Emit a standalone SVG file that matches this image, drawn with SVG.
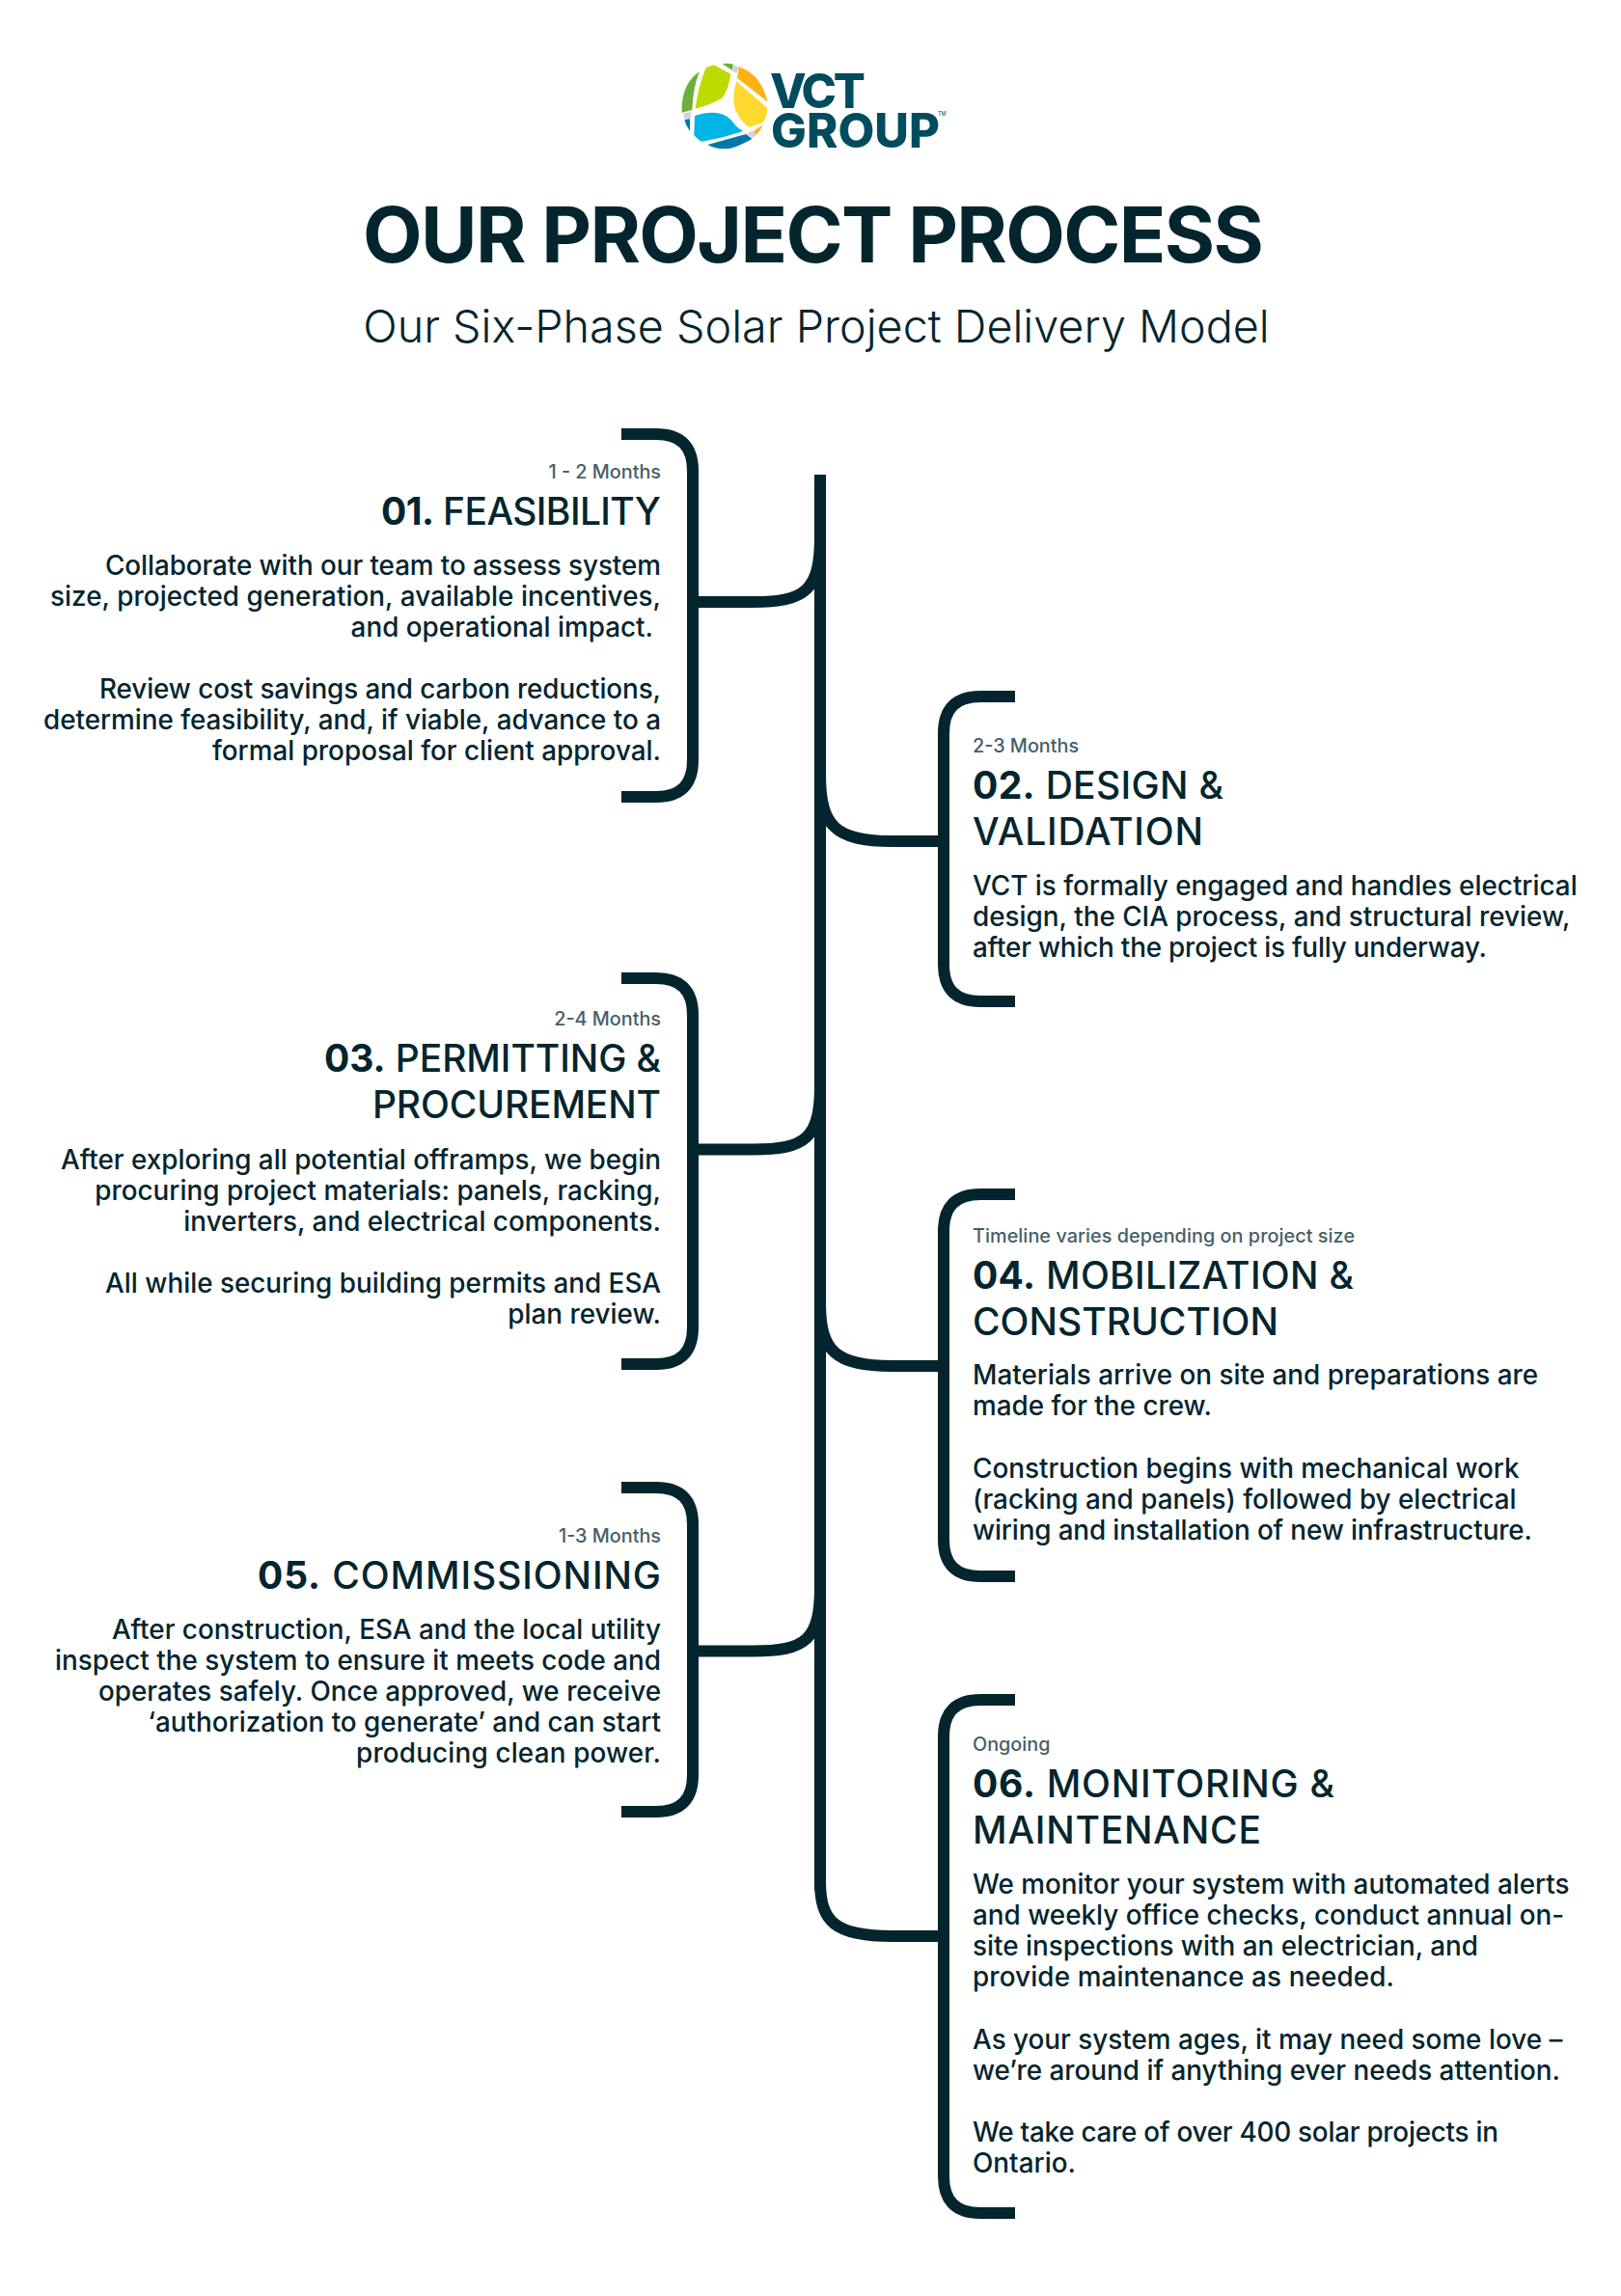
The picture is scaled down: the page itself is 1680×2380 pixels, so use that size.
<svg xmlns="http://www.w3.org/2000/svg" width="1680" height="2380" viewBox="0 0 1680 2380">
<style>
text{font-family:Inter,"Liberation Sans",sans-serif;fill:#04252e}
.h1{font-size:80px;font-weight:650}
.h2{font-size:46.7px;font-weight:300;text-anchor:middle}
.d{font-size:19.8px;font-weight:500;fill:#465f67}
.t{font-size:39px;font-weight:500}
.t tspan{font-weight:700}
.b{font-size:27.85px;font-weight:500}
.r{text-anchor:end}
.ln{fill:none;stroke:#04252e;stroke-width:12}
.lg{font-size:49px;font-weight:800;fill:#004c5f}
</style>
<rect width="1680" height="2380" fill="#fff"/>
<g id="logo">
<g transform="translate(680 40) scale(.3333)">
<path fill="#6fae3c" d="M135 103Q85 135 80 210L80 230L112 222Q115 150 135 103Z"/>
<path fill="#d0d5d5" d="M85 232L108 228L108 248L88 250Z"/>
<path fill="#0078ab" d="M88 252L105 250L105 288Q92 270 88 252Z"/>
<path fill="#bedb00" d="M155 90L180 82L232 110Q225 160 205 185Q170 205 122 218Q130 150 155 90Z"/>
<path fill="#6fae3c" d="M205 78Q225 76 240 80L236 98Z"/>
<path fill="#d0d5d5" d="M240 82L258 88L250 108L236 100Z"/>
<path fill="#ffb114" d="M258 88Q325 110 347 197L252 122Z"/>
<path fill="#ffd92e" d="M250 133L345 215Q345 250 330 262L288 276Q255 250 245 215Q235 180 250 133Z"/>
<path fill="#00b5e6" d="M120 240Q200 215 235 255Q250 278 270 287Q210 310 140 320Q125 310 118 300Z"/>
<path fill="#ffb114" d="M300 290L332 268Q322 290 312 298Z"/>
<path fill="#d0d5d5" d="M282 295L300 288L312 300L298 310Z"/>
<path fill="#0078ab" d="M160 330L280 297L298 312Q240 345 210 343Q185 343 160 330Z"/>
</g>
<text class="lg" x="798" y="112" textLength="99">VCT</text>
<text class="lg" x="799" y="153" textLength="175">GROUP</text>
<text x="972" y="120" style="font-size:5.5px;fill:#004c5f">TM</text>
</g>
<g id="header">
<text class="h1" x="376" y="272" textLength="934">OUR PROJECT PROCESS</text>
<text class="h2" x="846" y="355">Our Six-Phase Solar Project Delivery Model</text>
</g>
<g id="connectors">
<path class="ln" d="M850 492V1960"/>
<path class="ln" d="M718 624H780C835 624 850 612 850 556"/>
<path class="ln" d="M850 802C850 856 865 872 925 872H978"/>
<path class="ln" d="M718 1191.5H780C835 1191.5 850 1180 850 1125"/>
<path class="ln" d="M850 1350C850 1400 865 1416 925 1416H978"/>
<path class="ln" d="M718 1711.5H780C835 1711.5 850 1700 850 1645"/>
<path class="ln" d="M850 1950C850 1992 865 2007 925 2007H978"/>
</g>
<g id="node-01">
<path class="ln" d="M644 450H680Q718 450 718 488V788Q718 826 680 826H644"/>
<text class="d r" x="685" y="496">1 - 2 Months</text>
<text class="t r" x="685" y="544" textLength="290"><tspan>01.</tspan> FEASIBILITY</text>
<text class="b r" x="685" y="596" textLength="576">Collaborate with our team to assess system</text>
<text class="b r" x="685" y="628" textLength="633">size, projected generation, available incentives,</text>
<text class="b r" x="677" y="660">and operational impact.</text>
<text class="b r" x="685" y="724" textLength="582">Review cost savings and carbon reductions,</text>
<text class="b r" x="685" y="756" textLength="640">determine feasibility, and, if viable, advance to a</text>
<text class="b r" x="685" y="788">formal proposal for client approval.</text>
</g>
<g id="node-02">
<path class="ln" d="M1052 722H1016Q978 722 978 760V1000Q978 1038 1016 1038H1052"/>
<text class="d" x="1008" y="780">2-3 Months</text>
<text class="t" x="1008" y="828" textLength="260"><tspan>02.</tspan> DESIGN &amp;</text>
<text class="t" x="1008" y="876" textLength="239">VALIDATION</text>
<text class="b" x="1008" y="928">VCT is formally engaged and handles electrical</text>
<text class="b" x="1008" y="960">design, the CIA process, and structural review,</text>
<text class="b" x="1008" y="992" textLength="533">after which the project is fully underway.</text>
</g>
<g id="node-03">
<path class="ln" d="M644 1014H680Q718 1014 718 1052V1376Q718 1414 680 1414H644"/>
<text class="d r" x="685" y="1063">2-4 Months</text>
<text class="t r" x="685" y="1111" textLength="349"><tspan>03.</tspan> PERMITTING &amp;</text>
<text class="t r" x="685" y="1159" textLength="299">PROCUREMENT</text>
<text class="b r" x="685" y="1212">After exploring all potential offramps, we begin</text>
<text class="b r" x="685" y="1244">procuring project materials: panels, racking,</text>
<text class="b r" x="685" y="1276">inverters, and electrical components.</text>
<text class="b r" x="685" y="1340">All while securing building permits and ESA</text>
<text class="b r" x="685" y="1372">plan review.</text>
</g>
<g id="node-04">
<path class="ln" d="M1052 1238H1016Q978 1238 978 1276V1596Q978 1634 1016 1634H1052"/>
<text class="d" x="1008" y="1288" textLength="396">Timeline varies depending on project size</text>
<text class="t" x="1008" y="1336" textLength="395"><tspan>04.</tspan> MOBILIZATION &amp;</text>
<text class="t" x="1008" y="1384" textLength="317">CONSTRUCTION</text>
<text class="b" x="1008" y="1435">Materials arrive on site and preparations are</text>
<text class="b" x="1008" y="1467">made for the crew.</text>
<text class="b" x="1008" y="1532">Construction begins with mechanical work</text>
<text class="b" x="1008" y="1564">(racking and panels) followed by electrical</text>
<text class="b" x="1008" y="1596" textLength="580">wiring and installation of new infrastructure.</text>
</g>
<g id="node-05">
<path class="ln" d="M644 1542H680Q718 1542 718 1580V1840Q718 1878 680 1878H644"/>
<text class="d r" x="685" y="1599">1-3 Months</text>
<text class="t r" x="685" y="1647" textLength="418"><tspan>05.</tspan> COMMISSIONING</text>
<text class="b r" x="685" y="1699">After construction, ESA and the local utility</text>
<text class="b r" x="685" y="1731">inspect the system to ensure it meets code and</text>
<text class="b r" x="685" y="1763">operates safely. Once approved, we receive</text>
<text class="b r" x="685" y="1795">‘authorization to generate’ and can start</text>
<text class="b r" x="685" y="1827" textLength="316">producing clean power.</text>
</g>
<g id="node-06">
<path class="ln" d="M1052 1762H1016Q978 1762 978 1800V2256Q978 2294 1016 2294H1052"/>
<text class="d" x="1008" y="1815">Ongoing</text>
<text class="t" x="1008" y="1863" textLength="375"><tspan>06.</tspan> MONITORING &amp;</text>
<text class="t" x="1008" y="1911" textLength="299">MAINTENANCE</text>
<text class="b" x="1008" y="1963">We monitor your system with automated alerts</text>
<text class="b" x="1008" y="1995">and weekly office checks, conduct annual on-</text>
<text class="b" x="1008" y="2027">site inspections with an electrician, and</text>
<text class="b" x="1008" y="2059" textLength="437">provide maintenance as needed.</text>
<text class="b" x="1008" y="2124">As your system ages, it may need some love –</text>
<text class="b" x="1008" y="2156">we’re around if anything ever needs attention.</text>
<text class="b" x="1008" y="2220" textLength="545">We take care of over 400 solar projects in</text>
<text class="b" x="1008" y="2252">Ontario.</text>
</g>
</svg>
